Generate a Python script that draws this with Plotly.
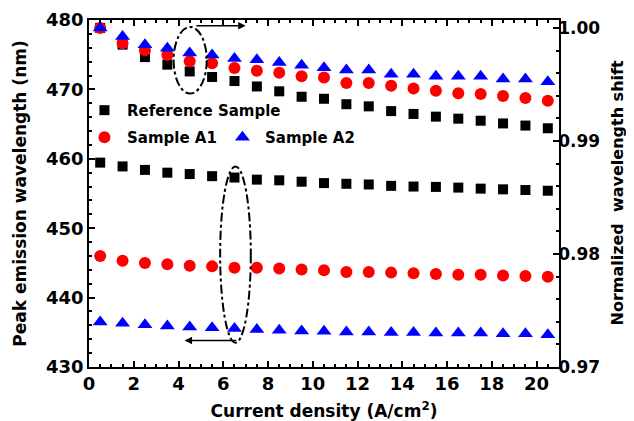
import plotly.graph_objects as go

current = [0.5, 1.5, 2.5, 3.5, 4.5, 5.5, 6.5, 7.5, 8.5, 9.5, 10.5,
           11.5, 12.5, 13.5, 14.5, 15.5, 16.5, 17.5, 18.5, 19.5, 20.5]

# Peak emission wavelength (nm), left axis
ref_nm = [459.45, 458.9, 458.4, 458.0, 457.8, 457.5, 457.3, 457.0, 456.9, 456.7, 456.5,
          456.4, 456.3, 456.1, 456.0, 455.95, 455.85, 455.7, 455.6, 455.5, 455.4]
a1_nm = [446.0, 445.3, 445.0, 444.8, 444.6, 444.5, 444.3, 444.3, 444.2, 444.05, 443.95,
         443.7, 443.7, 443.6, 443.5, 443.4, 443.3, 443.3, 443.2, 443.1, 443.0]
a2_nm = [436.5, 436.3, 436.1, 435.9, 435.75, 435.65, 435.55, 435.4, 435.3, 435.2, 435.15,
         435.05, 435.05, 434.97, 434.97, 434.9, 434.9, 434.9, 434.8, 434.8, 434.65]

# Normalized wavelength shift, right axis
ref_norm = [1.0, 0.99852, 0.99742, 0.99675, 0.99615, 0.99566, 0.9953, 0.99482, 0.99439, 0.99391, 0.99373,
            0.99325, 0.99306, 0.99264, 0.99239, 0.99215, 0.99197, 0.99179, 0.99155, 0.99136, 0.99112]
a1_norm = [1.0, 0.99864, 0.99803, 0.99761, 0.99706, 0.99688, 0.99645, 0.99621, 0.99603, 0.99573, 0.99561,
           0.99512, 0.99512, 0.99488, 0.99464, 0.99445, 0.99421, 0.99415, 0.99397, 0.99379, 0.99355]
a2_norm = [1.0, 0.99924, 0.99852, 0.99821, 0.99779, 0.99761, 0.9973, 0.99718, 0.99694, 0.9967, 0.99648,
           0.99627, 0.99627, 0.99591, 0.99591, 0.99573, 0.99573, 0.99573, 0.99548, 0.99548, 0.99524]

names = ["Reference Sample", "Sample A1", "Sample A2"]
colors = ["black", "#ff0000", "#0000ff"]
symbols = ["square", "circle", "triangle-up"]
sizes = [10, 12, 13]
legends = ["legend", "legend2", "legend2"]

FONT = "DejaVu Sans"

fig = go.Figure()
for nm, nrm, name, c, s, sz, lg in zip([ref_nm, a1_nm, a2_nm], [ref_norm, a1_norm, a2_norm],
                                       names, colors, symbols, sizes, legends):
    fig.add_trace(go.Scatter(x=current, y=nm, mode="markers", name=name, legend=lg,
                             marker=dict(symbol=s, size=sz, color=c, line=dict(width=0)),
                             showlegend=True, yaxis="y"))
    fig.add_trace(go.Scatter(x=current, y=nrm, mode="markers", name=name, legend=lg,
                             marker=dict(symbol=s, size=sz, color=c, line=dict(width=0)),
                             showlegend=False, yaxis="y2"))

def axis_common(size):
    return dict(showline=True, linecolor="black", linewidth=1.5, ticks="inside",
                tickcolor="black", tickwidth=1.5, ticklen=6, showgrid=False, zeroline=False,
                automargin=False,
                tickfont=dict(family=FONT, size=size, color="black", weight="bold"))

# the page body adds an 8px offset at left/top, so the figure is 8px smaller
fig.update_layout(
    width=626, height=413,
    margin=dict(l=81, r=75, t=12, b=54),
    paper_bgcolor="white", plot_bgcolor="white",
    font=dict(family=FONT, color="black"),
    xaxis=dict(range=[0, 21], dtick=2, tick0=0, mirror="ticks",
               minor=dict(dtick=0.5, ticks="inside", ticklen=3, tickcolor="black", tickwidth=1.5),
               title=dict(text="Current density (A/cm<sup>2</sup>)", standoff=14,
                          font=dict(family=FONT, size=17, color="black", weight="bold")),
               **axis_common(18)),
    yaxis=dict(range=[430, 480], dtick=10, tick0=430,
               minor=dict(dtick=2, ticks="inside", ticklen=3, tickcolor="black", tickwidth=1.5),
               title=dict(text="Peak emission wavelength (nm)",
                          font=dict(family=FONT, size=17, color="black", weight="bold")),
               **axis_common(18)),
    yaxis2=dict(range=[0.97, 1.0007], dtick=0.01, tick0=0.97, tickformat=".2f",
                overlaying="y", side="right", ticklabelstandoff=-6,
                minor=dict(dtick=0.002, ticks="inside", ticklen=3, tickcolor="black", tickwidth=1.5),
                **axis_common(17)),
    legend=dict(x=-0.015, xanchor="left", y=0.787, yanchor="top", bgcolor="rgba(0,0,0,0)",
                font=dict(family=FONT, size=15, color="black", weight="bold"),
                itemwidth=35, tracegroupgap=0),
    legend2=dict(x=-0.015, xanchor="left", y=0.709, yanchor="top", orientation="h",
                 bgcolor="rgba(0,0,0,0)", entrywidth=88, entrywidthmode="pixels",
                 font=dict(family=FONT, size=15, color="black", weight="bold"),
                 itemwidth=35),
    shapes=[
        dict(type="circle", xref="x", yref="y", x0=3.78, x1=5.26, y0=469.4, y1=479.0,
             line=dict(color="black", width=2, dash="dashdot")),
        dict(type="circle", xref="x", yref="y", x0=5.86, x1=7.23, y0=433.5, y1=458.9,
             line=dict(color="black", width=2, dash="dashdot")),
    ],
    annotations=[
        dict(x=7.0, y=479.16, ax=4.73, ay=479.16, xref="x", yref="y", axref="x", ayref="y",
             text="", showarrow=True, arrowhead=2, arrowsize=1, arrowwidth=1.5, arrowcolor="black"),
        dict(x=4.27, y=433.83, ax=6.65, ay=433.83, xref="x", yref="y", axref="x", ayref="y",
             text="", showarrow=True, arrowhead=2, arrowsize=1, arrowwidth=1.5, arrowcolor="black"),
        dict(text="Normalized  wavelength shift", xref="paper", yref="paper", x=1, y=0.5,
             xanchor="center", yanchor="middle", xshift=58, textangle=-90, showarrow=False,
             font=dict(family=FONT, size=16, color="black", weight="bold")),
    ],
)

fig.write_html("out.html")
